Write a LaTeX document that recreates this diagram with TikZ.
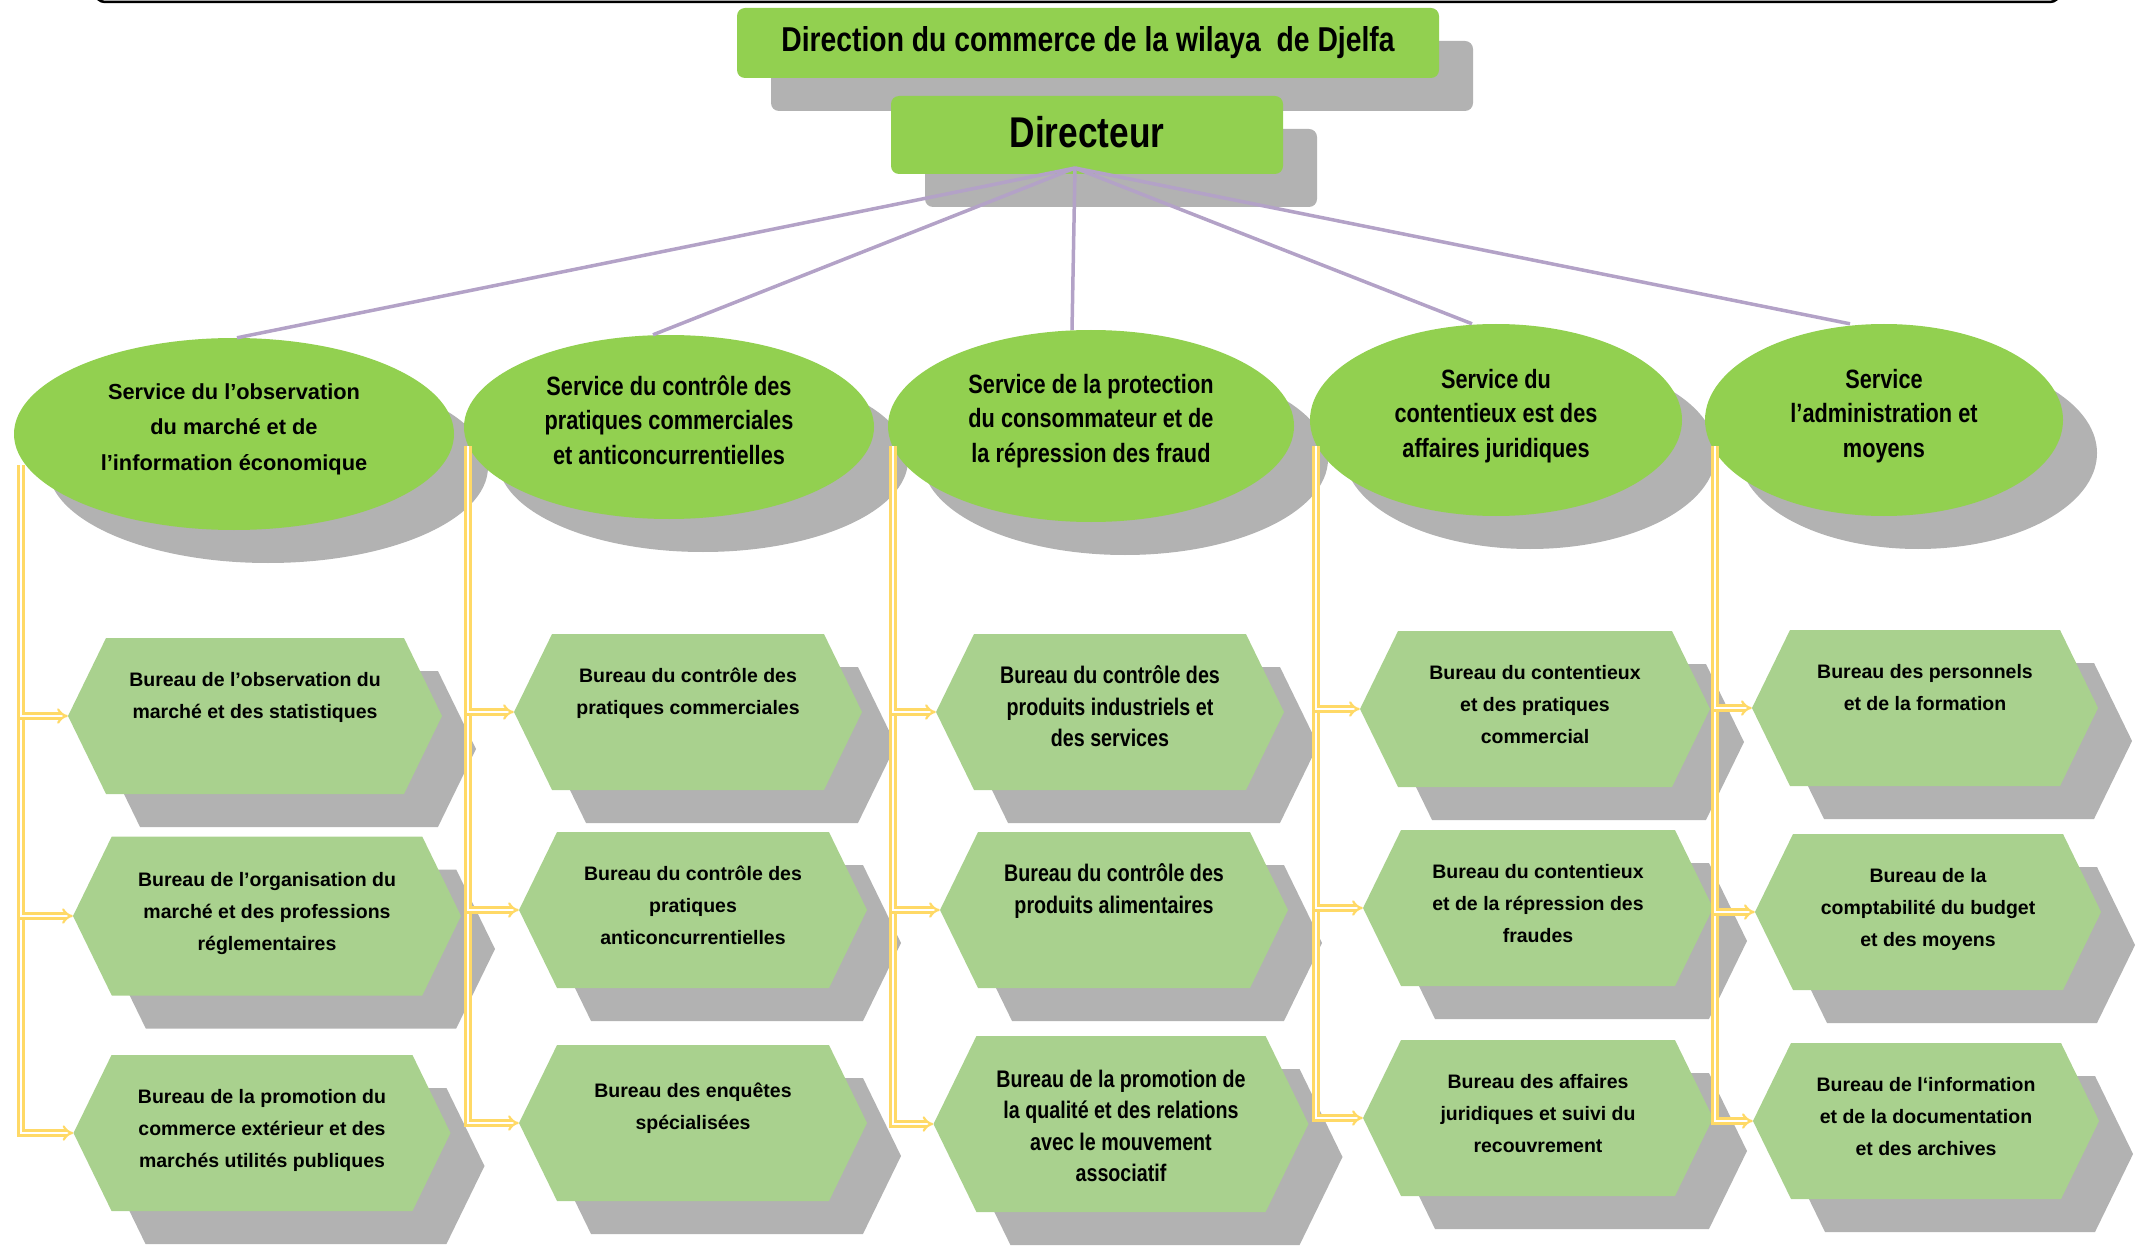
\documentclass[tikz,border=0pt]{standalone}
\usepackage{fontspec}
\setmainfont{Liberation Sans}
\newfontfamily\narrowfont[FakeStretch=0.82]{Liberation Sans}
\usetikzlibrary{shapes.geometric,shapes.symbols,shadows,arrows.meta}

\definecolor{servgreen}{HTML}{92D050}
\definecolor{burgreen}{HTML}{A9D18E}
\definecolor{shadegray}{HTML}{B2B2B2}
\definecolor{linkpurple}{HTML}{B3A2C7}
\definecolor{feedyellow}{HTML}{FFD966}

\newcommand{\hexbody}[2][88pt]{\parbox[c][#1][t]{270pt}{\centering #2}}
\newcommand{\lift}[1][14pt]{\rule[-#1]{0pt}{0pt}}

\tikzset{
  shade box/.style={general shadow={shadow xshift=34pt, shadow yshift=-33pt, fill=shadegray}},
  topbox/.style={rectangle, rounded corners=8pt, fill=servgreen, shade box, inner sep=0pt,
    font=\narrowfont\bfseries\fontsize{34.5}{40}\selectfont},
  service/.style={ellipse, fill=servgreen, shade box, inner sep=0pt, align=center,
    minimum height=192pt, font=\narrowfont\bfseries\fontsize{26.5}{34.5}\selectfont},
  service wide/.style={font=\bfseries\fontsize{21.8}{35.6}\selectfont},
  bureau/.style={signal, signal to=west and east, signal pointer angle=128, fill=burgreen,
    shade box, inner sep=0pt, minimum width=348pt, minimum height=156pt,
    font=\bfseries\fontsize{19.5}{32}\selectfont},
  bureau narrow/.style={font=\narrowfont\bfseries\fontsize{24}{31.5}\selectfont},
  link/.style={draw=linkpurple, line width=3.5pt},
  feed/.style={draw=feedyellow, line width=2.2pt, double=white, double distance=2.8pt, -{Implies}},
}

\begin{document}
\begin{tikzpicture}[x=1pt, y=-1pt]
  \useasboundingbox (0,0) rectangle (2147,1246);
  \draw[line width=2.5pt, rounded corners=10pt] (95,-40) rectangle (2060,2);

  % head
  \node[topbox, minimum width=702pt, minimum height=70pt] (dir) at (1088,43)
    {Direction du commerce de la wilaya~ de Djelfa\lift[3pt]};
  \node[topbox, minimum width=392pt, minimum height=78pt,
    font=\narrowfont\bfseries\fontsize{43}{48}\selectfont] (head) at (1087,135) {Directeur\lift[6pt]};
  \coordinate (hub) at (1075,168);

  % services
  \node[service, service wide, minimum width=440pt] (s1) at (234,434)
    {Service du l’observation\\du marché et de\\l’information économique\lift};
  \node[service, minimum width=410pt, minimum height=184pt] (s2) at (669,427)
    {Service du contrôle des\\pratiques commerciales\\et anticoncurrentielles\lift};
  \node[service, minimum width=406pt] (s3) at (1091,426)
    {Service de la protection\\du consommateur et de\\la répression des fraud\lift[16pt]};
  \node[service, minimum width=372pt] (s4) at (1496,420)
    {Service du\\contentieux est des\\affaires juridiques\lift};
  \node[service, minimum width=358pt] (s5) at (1884,420)
    {Service\\l’administration et\\moyens\lift};

  % bureaux
  \node[bureau, minimum width=374pt] (h11) at (255,716)
    {\hexbody{Bureau de l’observation du\\marché et des statistiques}};
  \node[bureau, minimum width=388pt, minimum height=159pt] (h12) at (267,916)
    {\hexbody{Bureau de l’organisation du\\marché et des professions\\réglementaires}};
  \node[bureau, minimum width=377pt] (h13) at (262,1133)
    {\hexbody{Bureau de la promotion du\\commerce extérieur et des\\marchés utilités publiques}};

  \node[bureau] (h21) at (688,712)
    {\hexbody{Bureau du contrôle des\\pratiques commerciales}};
  \node[bureau] (h22) at (693,910)
    {\hexbody{Bureau du contrôle des\\pratiques\\anticoncurrentielles}};
  \node[bureau] (h23) at (693,1123)
    {\hexbody[80pt]{Bureau des enquêtes\\spécialisées}};

  \node[bureau, bureau narrow] (h31) at (1110,712)
    {\hexbody[92pt]{Bureau du contrôle des\\produits industriels et\\des services}};
  \node[bureau, bureau narrow] (h32) at (1114,910)
    {\hexbody[92pt]{Bureau du contrôle des\\produits alimentaires}};
  \node[bureau, bureau narrow, minimum width=375pt, minimum height=176pt] (h33) at (1121,1124)
    {\hexbody[108pt]{Bureau de la promotion de\\la qualité et des relations\\avec le mouvement\\associatif}};

  \node[bureau, minimum width=350pt] (h41) at (1535,709)
    {\hexbody{Bureau du contentieux\\et des pratiques\\commercial}};
  \node[bureau, minimum width=350pt] (h42) at (1538,908)
    {\hexbody{Bureau du contentieux\\et de la répression des\\fraudes}};
  \node[bureau, minimum width=350pt] (h43) at (1538,1118)
    {\hexbody{Bureau des affaires\\juridiques et suivi du\\recouvrement}};

  \node[bureau, minimum width=345pt] (h51) at (1925,708)
    {\hexbody{Bureau des personnels\\et de la formation}};
  \node[bureau, minimum width=346pt] (h52) at (1928,912)
    {\hexbody{Bureau de la\\comptabilité du budget\\et des moyens}};
  \node[bureau, minimum width=345pt] (h53) at (1926,1121)
    {\hexbody{Bureau de l‘information\\et de la documentation\\et des archives}};

  % links
  \draw[link] (hub) -- ([xshift=3pt]s1.north);
  \draw[link] (hub) -- ([xshift=-16pt]s2.north);
  \draw[link] (hub) -- ([xshift=-19pt]s3.north);
  \draw[link] (hub) -- ([xshift=-24pt]s4.north);
  \draw[link] (hub) -- ([xshift=-34pt]s5.north);

  \coordinate (v1) at (21,465);
  \coordinate (v2) at (468,446);
  \coordinate (v3) at (893,446);
  \coordinate (v4) at (1316,446);
  \coordinate (v5) at (1715,446);
  \foreach \c in {1,...,5}
    \foreach \r in {3,2,1}
      \draw[feed] (v\c) |- (h\c\r.west);
\end{tikzpicture}
\end{document}
